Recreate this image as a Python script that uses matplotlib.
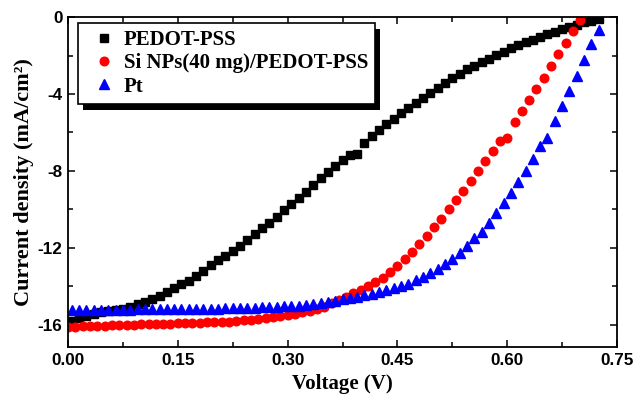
import numpy as np
import matplotlib
matplotlib.use("Agg")
import matplotlib.pyplot as plt
from matplotlib.patches import Rectangle
from matplotlib.ticker import MultipleLocator

# J-V curves, current density in mA/cm2
v_pedot = [0.005, 0.015, 0.025, 0.035, 0.045, 0.055, 0.065, 0.075, 0.085, 0.095,
           0.105, 0.115, 0.125, 0.135, 0.145, 0.155, 0.165, 0.175, 0.185, 0.195,
           0.205, 0.215, 0.225, 0.235, 0.245, 0.255, 0.265, 0.275, 0.285, 0.295,
           0.305, 0.315, 0.325, 0.335, 0.345, 0.355, 0.365, 0.375, 0.385, 0.395,
           0.405, 0.415, 0.425, 0.435, 0.445, 0.455, 0.465, 0.475, 0.485, 0.495,
           0.505, 0.515, 0.525, 0.535, 0.545, 0.555, 0.565, 0.575, 0.585, 0.595,
           0.605, 0.615, 0.625, 0.635, 0.645, 0.655, 0.665, 0.675, 0.685, 0.695,
           0.705, 0.715, 0.725]
j_pedot = [-15.78, -15.64, -15.52, -15.42, -15.35, -15.28, -15.22, -15.15, -15.05, -14.93,
           -14.79, -14.65, -14.49, -14.30, -14.09, -13.90, -13.70, -13.45, -13.18, -12.90,
           -12.62, -12.40, -12.16, -11.88, -11.58, -11.28, -10.98, -10.68, -10.37, -10.04,
           -9.71, -9.39, -9.07, -8.72, -8.38, -8.06, -7.74, -7.45, -7.17, -7.12,
           -6.53, -6.20, -5.87, -5.57, -5.28, -5.00, -4.72, -4.45, -4.19, -3.93,
           -3.67, -3.43, -3.19, -2.95, -2.72, -2.53, -2.35, -2.16, -1.97, -1.80,
           -1.63, -1.47, -1.32, -1.17, -1.02, -0.89, -0.76, -0.63, -0.50, -0.39,
           -0.28, -0.19, -0.10]

v_si = [0.00, 0.01, 0.02, 0.03, 0.04, 0.05, 0.06, 0.07, 0.08, 0.09,
        0.10, 0.11, 0.12, 0.13, 0.14, 0.15, 0.16, 0.17, 0.18, 0.19,
        0.20, 0.21, 0.22, 0.23, 0.24, 0.25, 0.26, 0.27, 0.28, 0.29,
        0.30, 0.31, 0.32, 0.33, 0.34, 0.35, 0.36, 0.37, 0.38, 0.39,
        0.40, 0.41, 0.42, 0.43, 0.44, 0.45, 0.46, 0.47, 0.48, 0.49,
        0.50, 0.51, 0.52, 0.53, 0.54, 0.55, 0.56, 0.57, 0.58, 0.59,
        0.60, 0.61, 0.62, 0.63, 0.64, 0.65, 0.66, 0.67, 0.68, 0.69,
        0.70]
j_si = [-16.12, -16.10, -16.08, -16.07, -16.05, -16.04, -16.03, -16.01, -16.00, -15.99,
        -15.98, -15.97, -15.95, -15.94, -15.93, -15.92, -15.90, -15.89, -15.88, -15.87,
        -15.86, -15.85, -15.83, -15.80, -15.77, -15.73, -15.69, -15.64, -15.59, -15.53,
        -15.47, -15.41, -15.34, -15.26, -15.16, -15.05, -14.88, -14.71, -14.53, -14.35,
        -14.20, -13.98, -13.77, -13.54, -13.26, -12.94, -12.56, -12.19, -11.79, -11.38,
        -10.93, -10.49, -9.99, -9.51, -9.02, -8.52, -8.00, -7.48, -6.95, -6.43,
        -6.27, -5.44, -4.87, -4.31, -3.74, -3.15, -2.55, -1.94, -1.35, -0.75,
        -0.15]

v_pt = v_pedot
j_pt = [-15.25, -15.24, -15.24, -15.23, -15.23, -15.22, -15.22, -15.21, -15.21, -15.20,
        -15.20, -15.19, -15.19, -15.18, -15.18, -15.17, -15.17, -15.16, -15.16, -15.15,
        -15.15, -15.14, -15.13, -15.12, -15.11, -15.10, -15.09, -15.08, -15.06, -15.04,
        -15.02, -15.00, -14.96, -14.92, -14.87, -14.80, -14.74, -14.67, -14.60, -14.53,
        -14.45, -14.37, -14.28, -14.18, -14.08, -13.98, -13.86, -13.68, -13.50, -13.32,
        -13.11, -12.85, -12.59, -12.24, -11.90, -11.50, -11.15, -10.69, -10.20, -9.68,
        -9.16, -8.59, -8.00, -7.39, -6.70, -6.27, -5.40, -4.62, -3.84, -3.06,
        -2.23, -1.42, -0.68]

labels = ['PEDOT-PSS', 'Si NPs(40 mg)/PEDOT-PSS', 'Pt']
xticks = [0, 0.15, 0.30, 0.45, 0.60, 0.75]
xticklabels = ['0.00', '0.15', '0.30', '0.45', '0.60', '0.75']
yticks = [0, -4, -8, -12, -16]
yticklabels = ['0', '-4', '-8', '-12', '-16']

serif = 'Liberation Serif'
sans = 'Liberation Sans'

fig = plt.figure(figsize=(6.38, 3.97), dpi=100)
ax = fig.add_axes([0.1066, 0.126, 0.8605, 0.831])

ax.plot(v_pedot, j_pedot, 's', color='black', ms=5.5, mec='black', label=labels[0])
ax.plot(v_si, j_si, 'o', color='red', ms=6.2, mec='red', label=labels[1])
ax.plot(v_pt, j_pt, '^', color='blue', ms=6.8, mec='blue', label=labels[2])

ax.set_xlim(0, 0.75)
ax.set_ylim(-17.15, 0)
ax.xaxis.set_minor_locator(MultipleLocator(0.075))
ax.yaxis.set_minor_locator(MultipleLocator(2))
ax.set_xticks(xticks)
ax.set_xticklabels(xticklabels)
ax.set_yticks(yticks)
ax.set_yticklabels(yticklabels)

ax.tick_params(which='both', direction='in', top=True, right=True, width=1.1)
ax.tick_params(which='major', length=5, pad=4)
ax.tick_params(which='minor', length=3.5)
for lab in ax.get_xticklabels() + ax.get_yticklabels():
    lab.set_fontfamily(sans)
    lab.set_fontweight('bold')
    lab.set_fontsize(12.3)
for s in ax.spines.values():
    s.set_linewidth(1.3)

ax.set_xlabel('Voltage (V)', fontfamily=serif, fontweight='bold', fontsize=15, labelpad=5)
ax.set_ylabel('Current density (mA/cm\u00b2)', fontfamily=serif, fontweight='bold',
              fontsize=16)
ax.yaxis.set_label_coords(-0.062, 0.5)

leg = ax.legend(loc='upper left', bbox_to_anchor=(0.018, 0.982), borderaxespad=0,
                prop={'family': serif, 'weight': 'bold', 'size': 15},
                frameon=True, fancybox=False, edgecolor='black', framealpha=1,
                borderpad=0.35, handlelength=1.8, handletextpad=0.05, labelspacing=0.15)
leg.get_frame().set_linewidth(1.2)

# black drop shadow behind the legend box
fig.canvas.draw()
bb = leg.get_window_extent().transformed(ax.transAxes.inverted())
dx = 5 / (ax.bbox.width)
dy = 6 / (ax.bbox.height)
ax.add_patch(Rectangle((bb.x0 + dx, bb.y0 - dy), bb.width, bb.height, transform=ax.transAxes,
                       facecolor='black', edgecolor='none', zorder=4.9, clip_on=False))

fig.savefig('out.png', dpi=100)
